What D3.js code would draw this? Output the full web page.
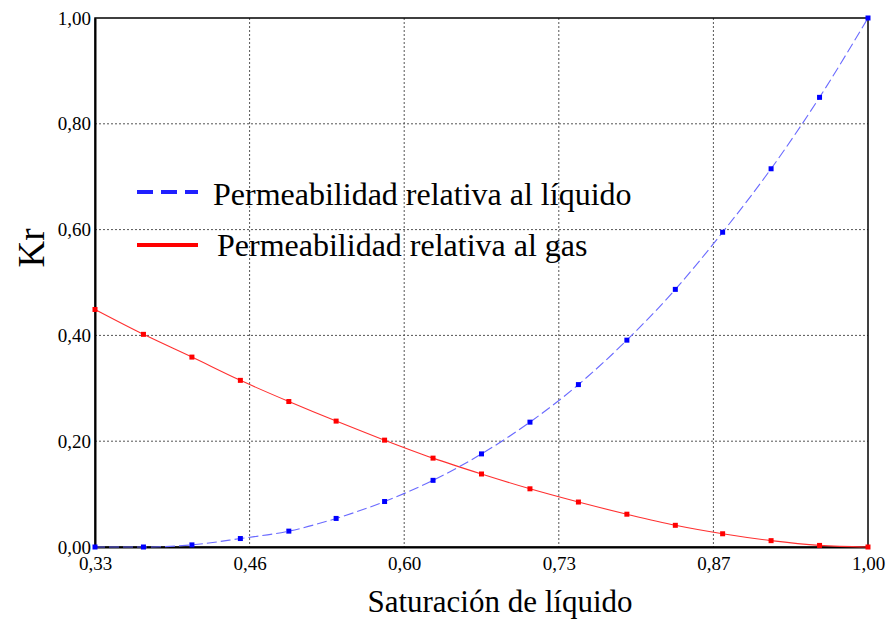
<!DOCTYPE html>
<html>
<head>
<meta charset="utf-8">
<script src="https://cdn.jsdelivr.net/npm/d3@7"></script>
<style>
  html, body { margin: 0; padding: 0; background: #fff; }
  svg { display: block; }
</style>
</head>
<body>
<svg id="chart" width="891" height="619"></svg>
<script>
// Liquid saturation (Sw) at each sample
const saturation = [0.330, 0.372, 0.414, 0.456, 0.498, 0.539, 0.581, 0.623, 0.665,
                    0.707, 0.749, 0.791, 0.833, 0.874, 0.916, 0.958, 1.000];
// Relative permeability to liquid
const krLiquid = [0.000, 0.000, 0.004, 0.016, 0.030, 0.054, 0.086, 0.126, 0.176,
                  0.236, 0.307, 0.391, 0.487, 0.595, 0.715, 0.850, 1.000];
// Relative permeability to gas
const krGas = [0.449, 0.402, 0.359, 0.315, 0.275, 0.238, 0.202, 0.168, 0.138,
               0.110, 0.085, 0.062, 0.041, 0.025, 0.012, 0.003, 0.000];

const xTickValues = [0.33, 0.464, 0.598, 0.732, 0.866, 1.00];
const xTickLabels = ["0,33", "0,46", "0,60", "0,73", "0,87", "1,00"];
const yTickValues = [0, 0.2, 0.4, 0.6, 0.8, 1.0];
const yTickLabels = ["0,00", "0,20", "0,40", "0,60", "0,80", "1,00"];

const seriesNames = ["Permeabilidad relativa al líquido", "Permeabilidad relativa al gas"];
const xTitle = "Saturación de líquido";
const yTitle = "Kr";

const SERIF = "Liberation Serif";
const margin = { left: 95, right: 23, top: 18, bottom: 72 };
const W = 891, H = 619;
const svg = d3.select("#chart");

const x = d3.scaleLinear().domain([0.33, 1.0]).range([margin.left, W - margin.right]);
const y = d3.scaleLinear().domain([0, 1]).range([H - margin.bottom, margin.top]);

// grid
const grid = svg.append("g");
grid.selectAll("line.vg").data(xTickValues.slice(1, -1)).join("line")
  .attr("x1", d => x(d)).attr("x2", d => x(d))
  .attr("y1", y(1)).attr("y2", y(0))
  .attr("stroke", "#555").attr("stroke-width", 1).attr("stroke-dasharray", "2,2");
grid.selectAll("line.hg").data(yTickValues.slice(1, -1)).join("line")
  .attr("x1", x(0.33)).attr("x2", x(1))
  .attr("y1", d => y(d)).attr("y2", d => y(d))
  .attr("stroke", "#555").attr("stroke-width", 1).attr("stroke-dasharray", "2,2");

// frame
svg.append("rect")
  .attr("x", x(0.33)).attr("y", y(1))
  .attr("width", x(1) - x(0.33)).attr("height", y(0) - y(1))
  .attr("fill", "none").attr("stroke", "#000").attr("stroke-width", 1.5);

// axes
const xAxis = d3.axisBottom(x).tickValues(xTickValues)
  .tickFormat((d, i) => xTickLabels[i]).tickSize(0).tickPadding(10);
const yAxis = d3.axisLeft(y).tickValues(yTickValues)
  .tickFormat((d, i) => yTickLabels[i]).tickSize(0).tickPadding(4);

const gx = svg.append("g").attr("transform", `translate(0,${y(0)})`).call(xAxis);
const gy = svg.append("g").attr("transform", `translate(${x(0.33)},0)`).call(yAxis);
[gx, gy].forEach(g => {
  g.select(".domain").attr("stroke", "#000").attr("stroke-width", 2);
  g.selectAll("text").style("font-family", SERIF).style("font-size", "19px").attr("fill", "#000");
});

// curves
const line = d3.line().x(d => x(d[0])).y(d => y(d[1])).curve(d3.curveMonotoneX);
const liq = saturation.map((s, i) => [s, krLiquid[i]]);
const gas = saturation.map((s, i) => [s, krGas[i]]);

svg.append("path").datum(gas).attr("d", line)
  .attr("fill", "none").attr("stroke", "#ff3030").attr("stroke-width", 1.1);
svg.append("path").datum(liq).attr("d", line)
  .attr("fill", "none").attr("stroke", "#6a6aff").attr("stroke-width", 1.1)
  .attr("stroke-dasharray", "10,4");

svg.selectAll("rect.g").data(gas).join("rect")
  .attr("x", d => x(d[0]) - 2.5).attr("y", d => y(d[1]) - 2.5)
  .attr("width", 5).attr("height", 5).attr("fill", "#ff0000");
svg.selectAll("rect.l").data(liq).join("rect")
  .attr("x", d => x(d[0]) - 2.5).attr("y", d => y(d[1]) - 2.5)
  .attr("width", 5).attr("height", 5).attr("fill", "#0000ff");

// legend
const legend = svg.append("g");
legend.append("line").attr("x1", 137).attr("x2", 198).attr("y1", 192).attr("y2", 192)
  .attr("stroke", "#2020ff").attr("stroke-width", 4).attr("stroke-dasharray", "16,8");
legend.append("line").attr("x1", 137).attr("x2", 198).attr("y1", 245).attr("y2", 245)
  .attr("stroke", "#ff0000").attr("stroke-width", 4);
legend.append("text").attr("x", 213).attr("y", 205)
  .style("font-family", SERIF).style("font-size", "32px").attr("fill", "#000")
  .text(seriesNames[0]);
legend.append("text").attr("x", 217).attr("y", 256)
  .style("font-family", SERIF).style("font-size", "32px").attr("fill", "#000")
  .text(seriesNames[1]);

// axis titles
svg.append("text").attr("x", 500).attr("y", 612).attr("text-anchor", "middle")
  .style("font-family", SERIF).style("font-size", "31px").attr("fill", "#000").text(xTitle);
svg.append("text").attr("transform", `translate(44,248) rotate(-90)`).attr("text-anchor", "middle")
  .style("font-family", SERIF).style("font-size", "37px").attr("fill", "#000").text(yTitle);
</script>
</body>
</html>
